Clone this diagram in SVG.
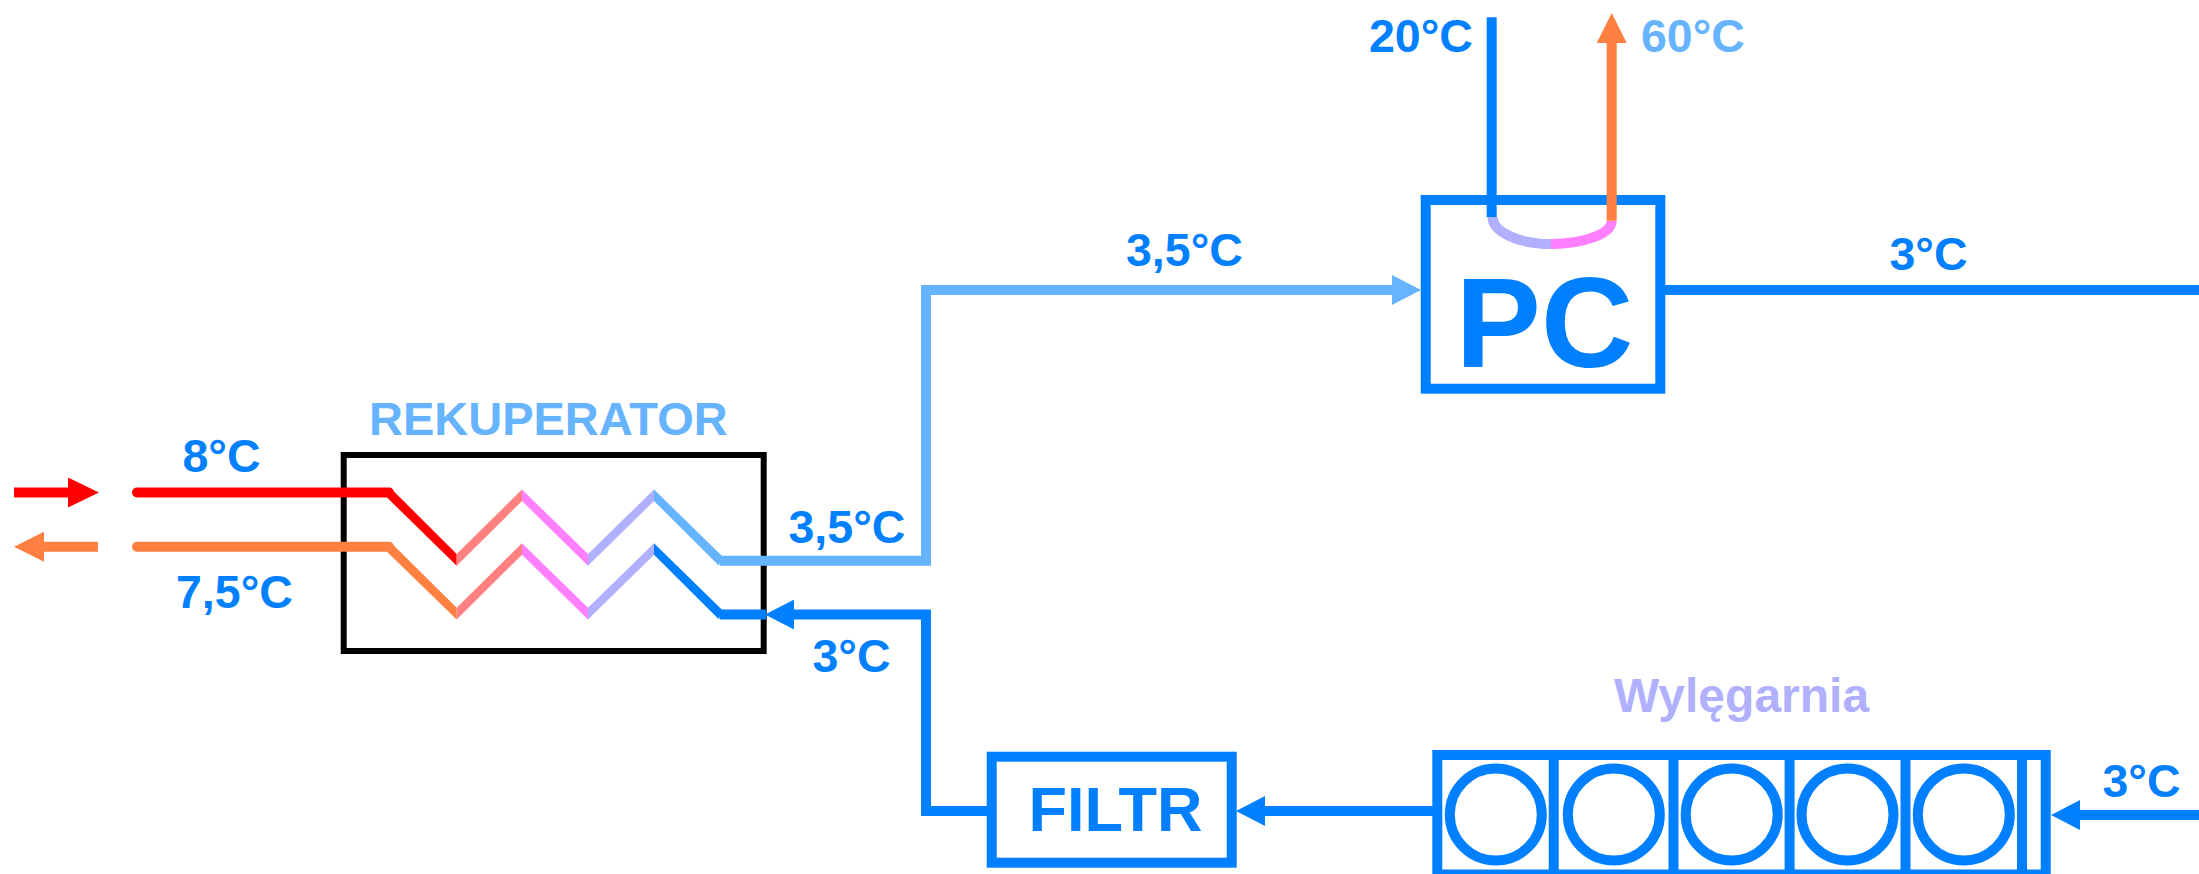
<svg xmlns="http://www.w3.org/2000/svg" width="2199" height="874" viewBox="0 0 2199 874">
<style>
text{font-family:"Liberation Sans",Arial,sans-serif;font-weight:bold;fill:#0080ff;font-size:46.5px}
.light{fill:#66b3ff}
.lav{fill:#b0b0ff}
.box{fill:none;stroke:#0080ff;stroke-width:10}
.pipe{fill:none;stroke-width:10}
.blue{stroke:#0080ff}
.lb{stroke:#66b3ff}
.or{stroke:#ff8040}
.rd{stroke:#ff0000}
.ring{fill:none;stroke:#0080ff;stroke-width:10}
</style>
<defs>
<marker id="aBlue" markerUnits="userSpaceOnUse" markerWidth="30" markerHeight="30" refX="0" refY="15" orient="auto"><path d="M0 0L29 15L0 30Z" fill="#0080ff"/></marker>
<marker id="aLight" markerUnits="userSpaceOnUse" markerWidth="30" markerHeight="30" refX="0" refY="15" orient="auto"><path d="M0 0L29 15L0 30Z" fill="#66b3ff"/></marker>
<marker id="aOrange" markerUnits="userSpaceOnUse" markerWidth="30" markerHeight="30" refX="0" refY="15" orient="auto"><path d="M0 0L30 15L0 30Z" fill="#ff8040"/></marker>
<marker id="aRed" markerUnits="userSpaceOnUse" markerWidth="31" markerHeight="30" refX="0" refY="15" orient="auto"><path d="M0 0L31 15L0 30Z" fill="#ff0000"/></marker>
</defs>
<g id="rekuperator">
<rect x="343.700" y="455" width="420" height="196" fill="none" stroke="#000" stroke-width="6"/>
<text x="369" y="435" class="light" style="font-size:47px">REKUPERATOR</text>
</g>
<g id="pc">
<rect class="box" x="1425.700" y="200" width="234.600" height="188.700"/>
<text x="1544.500" y="367" text-anchor="middle" style="font-size:128px">PC</text>
</g>
<g id="filtr">
<rect class="box" x="991.700" y="756.700" width="240" height="106"/>
<text x="1115.500" y="831" text-anchor="middle" style="font-size:63px">FILTR</text>
</g>
<g id="wylegarnia">
<rect class="box" x="1437.300" y="755" width="608.400" height="119.500"/>
<path class="box" d="M1553.700 755V874M1673.500 755V874M1789.600 755V874M1905.500 755V874M2022 755V874"/>
<circle class="ring" cx="1495.800" cy="814.500" r="46"/>
<circle class="ring" cx="1613.800" cy="814.500" r="46"/>
<circle class="ring" cx="1731.700" cy="814.500" r="46"/>
<circle class="ring" cx="1847.500" cy="814.500" r="46"/>
<circle class="ring" cx="1963.800" cy="814.500" r="46"/>
<text x="1741.500" y="712" text-anchor="middle" class="lav" style="font-size:48px">Wylęgarnia</text>
</g>
<g id="connectors">
<path class="pipe rd" d="M14 492.500H68" marker-end="url(#aRed)"/>
<path class="pipe or" d="M98 546.700H44" marker-end="url(#aOrange)"/>
<path class="pipe rd" d="M137 492.500H389" stroke-linecap="round"/>
<path class="pipe or" d="M137 546.700H389" stroke-linecap="round"/>
<polygon fill="#ff0000" points="390,487.500 456.700,554 456.700,565.700 387,497.500"/>
<polygon fill="#ff8080" points="456.700,554 522,489.500 522,501 456.700,565.700"/>
<polygon fill="#ff80ff" points="522,489.500 588,554 588,565.700 522,501"/>
<polygon fill="#b0b0ff" points="588,554 654,489.500 654,501 588,565.700"/>
<polygon fill="#66b3ff" points="654,489.500 722,556 719,565.700 654,501"/>
<polygon fill="#ff8040" points="390,541.700 456.700,607.700 456.700,619.400 387,551.700"/>
<polygon fill="#ff8080" points="456.700,607.700 522,543.200 522,554.700 456.700,619.400"/>
<polygon fill="#ff80ff" points="522,543.200 588,607.700 588,619.400 522,554.700"/>
<polygon fill="#b0b0ff" points="588,607.700 654,543.200 654,554.700 588,619.400"/>
<polygon fill="#0080ff" points="654,543.200 722,609.700 719,619.400 654,554.700"/>
<path class="pipe lb" d="M720 560.700H926V290H1392" marker-end="url(#aLight)"/>
<path class="pipe blue" d="M720 614.600H766"/>
<path class="pipe blue" d="M987 811H926V614.600H794" marker-end="url(#aBlue)"/>
<path class="pipe blue" d="M1433 811H1265" marker-end="url(#aBlue)"/>
<path class="pipe blue" d="M2199 815H2080" marker-end="url(#aBlue)"/>
<path class="pipe blue" d="M1664 290H2199"/>
<path class="pipe blue" d="M1491.700 17.300V217"/>
<path class="pipe" stroke="#b0b0ff" d="M1492.500 217A58.500 27 0 0 0 1551 244"/>
<path class="pipe" stroke="#ff80ff" d="M1551 244A60.700 23.300 0 0 0 1611.700 220.700"/>
<path class="pipe or" d="M1611.700 220.700V43" marker-end="url(#aOrange)"/>
</g>
<g id="labels">
<text x="182.500" y="472">8°C</text>
<text x="176" y="608">7,5°C</text>
<text x="788.500" y="543">3,5°C</text>
<text x="812.500" y="672">3°C</text>
<text x="1126" y="266">3,5°C</text>
<text x="1369" y="52">20°C</text>
<text x="1641" y="52" class="light">60°C</text>
<text x="1889.500" y="270">3°C</text>
<text x="2102.500" y="797">3°C</text>
</g>
</svg>
